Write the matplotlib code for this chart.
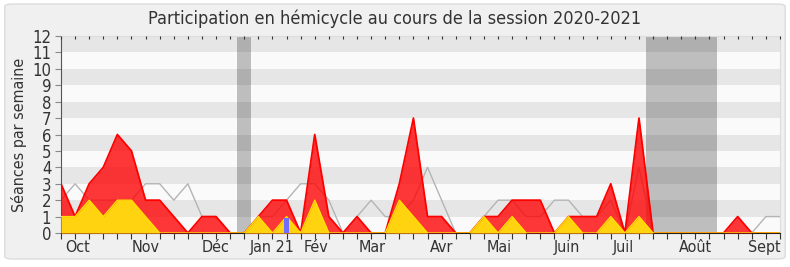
import matplotlib
matplotlib.use("Agg")
import matplotlib.pyplot as plt
from matplotlib.patches import FancyBboxPatch
import numpy as np

# Données hebdomadaires (semaine 0 = début octobre 2020)
semaines = np.arange(52)
total = [3, 1, 3, 4, 6, 5, 2, 2, 1, 0, 1, 1, 0, 0, 1, 2, 2, 0, 6, 1,
         0, 1, 0, 0, 3, 7, 1, 1, 0, 0, 1, 1, 2, 2, 2, 0, 1, 1, 1, 3,
         0, 7, 0, 0, 0, 0, 0, 0, 1, 0, 0, 0]
interventions = [1, 1, 2, 1, 2, 2, 1, 0, 0, 0, 0, 0, 0, 0, 1, 0, 1, 0, 2, 0,
                 0, 0, 0, 0, 2, 1, 0, 0, 0, 0, 1, 0, 1, 0, 0, 0, 1, 0, 0, 1,
                 0, 1, 0, 0, 0, 0, 0, 0, 0, 0, 0, 0]
mediane = [2, 3, 2, 2, 2, 2, 3, 3, 2, 3, 1, 1, 0, 0, 1, 1, 2, 3, 3, 2,
           0, 1, 2, 1, 1, 2, 4, 2, 0, 0, 1, 2, 2, 1, 1, 2, 2, 1, 1, 2,
           0, 4, 0, 0, 0, 0, 0, 0, 0, 0, 1, 1]
questions_sem = [16]
questions_val = [0.9]
vacances = [(12.5, 13.5), (41.5, 46.5)]
mois = ['Oct', 'Nov', 'Déc', 'Jan 21', 'Fév', 'Mar', 'Avr', 'Mai', 'Juin', 'Juil', 'Août', 'Sept']
mois_pos = [1.15, 6, 11, 15, 18.1, 22.1, 27, 31.1, 35.9, 39.9, 45, 49.9]

plt.rcParams['font.family'] = ['DejaVu Sans']
plt.rcParams['font.stretch'] = 'condensed'

fig = plt.figure(figsize=(7.9, 2.67), dpi=100, facecolor='white')
fig.patches.append(FancyBboxPatch((0.006, 0.03), 0.988, 0.955, boxstyle='round,pad=0,rounding_size=0.01',
                                  transform=fig.transFigure, facecolor='#f0f0f0', edgecolor='#dcdcdc',
                                  lw=1, zorder=-10))
ax = fig.add_axes([0.0772, 0.1273, 0.9101, 0.7379])
ax.set_facecolor('#fafafa')

# bandes horizontales
for y in range(1, 12, 2):
    ax.axhspan(y, y + 1, color='black', alpha=0.08, lw=0, zorder=1)
# vacances
for a, b in vacances:
    ax.axvspan(a, b, color='#bebebe', lw=0, zorder=0.5)

ax.plot(semaines, mediane, color='#b4b4b4', lw=1, zorder=2)
ax.fill_between(semaines, total, color='#ff0000', alpha=0.78, lw=0, zorder=3)
ax.plot(semaines, total, color='#ff0000', lw=1.3, zorder=3.5)
ax.fill_between(semaines, interventions, color='#ffd30f', lw=0, zorder=4)
ax.plot(semaines, interventions, color='#ffe000', lw=1, zorder=4.5)
ax.bar(questions_sem, questions_val, width=0.3, color='#6f6fff', zorder=5)

ax.set_xlim(0, 51)
ax.set_ylim(0, 12)
ax.set_yticks(range(13))
ax.set_xticks(semaines)
ax.set_xticklabels([])
ax.tick_params(axis='x', length=4, color='#333333', direction='out')
ax.tick_params(axis='y', length=4, color='#888888', labelsize=12, labelcolor='#333333', pad=3)

# libellés des mois
for m, p in zip(mois, mois_pos):
    ax.text(p, -0.45, m, ha='center', va='top', fontsize=11.5, color='#333333',
            transform=ax.get_xaxis_transform() if False else ax.transData)

# petits repères en haut
ax2 = ax.twiny()
ax2.set_xlim(0, 51)
ax2.set_xticks(semaines)
ax2.set_xticklabels([])
ax2.tick_params(axis='x', direction='in', length=2, color='#333333')
for s in ax2.spines.values():
    s.set_visible(False)

for s in ['top', 'right']:
    ax.spines[s].set_color('#dddddd')
ax.spines['bottom'].set_color('#222222')
ax.spines['left'].set_color('#555555')

ax.set_ylabel('Séances par semaine', fontsize=11.5, color='#333333', labelpad=4)
fig.text(0.5, 0.93, 'Participation en hémicycle au cours de la session 2020-2021', fontsize=13,
         color='#333333', ha='center', va='center')

fig.savefig('out.png', dpi=100, facecolor=fig.get_facecolor())
